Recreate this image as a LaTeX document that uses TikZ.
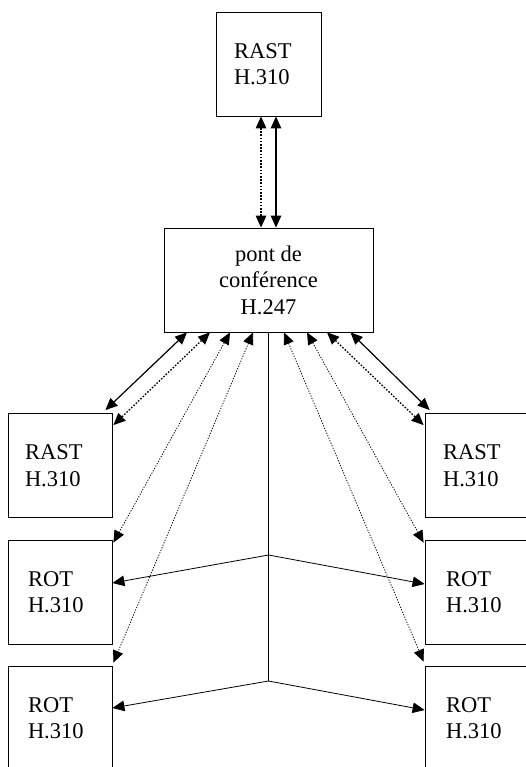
\documentclass[tikz,border=0pt]{standalone}
\usepackage{fontspec}
\setmainfont{Liberation Serif}
\usetikzlibrary{arrows.meta}
\begin{document}
\begin{tikzpicture}[x=1pt,y=-1pt,
  unit/.style={draw, line width=0.8pt, minimum height=104pt, align=left,
    font=\fontsize{22.5pt}{26.5pt}\selectfont, inner ysep=0pt},
  tip/.style={{Triangle[length=12pt,width=10.5pt]}-{Triangle[length=12pt,width=10.5pt]}},
  onetip/.style={-{Triangle[length=12pt,width=10.5pt]}},
  plain/.style={line width=1.2pt},
  dotbold/.style={line width=1.3pt, dash pattern=on 1.6pt off 1.6pt},
  dotthin/.style={line width=0.8pt, dash pattern=on 1.2pt off 1.5pt},
  feed/.style={line width=0.8pt}]
\useasboundingbox (0,0) rectangle (526,767);
\clip (0,0) rectangle (526,767);

% terminals and bridge
\node[unit, inner xsep=18pt, text width=69pt] (top) at (268.5,64) {RAST\\H.310};
\node[unit, minimum width=209pt, align=center, inner xsep=0pt] (bridge) at (268.5,280) {pont de\\conférence\\H.247};

\node[unit, inner xsep=17pt, text width=70pt] (lrast) at (60,465.5) {RAST\\H.310};
\node[unit, inner xsep=20pt, text width=64pt] (lrot1) at (60,592) {ROT\\H.310};
\node[unit, inner xsep=20pt, text width=64pt] (lrot2) at (60,718) {ROT\\H.310};

\node[unit, inner xsep=18pt, text width=68pt] (rrast) at (477,465.5) {RAST\\H.310};
\node[unit, inner xsep=21pt, text width=62pt] (rrot1) at (477,592) {ROT\\H.310};
\node[unit, inner xsep=21pt, text width=62pt] (rrot2) at (477,718) {ROT\\H.310};

% link to the upper terminal
\draw[tip, dotbold] ([xshift=-7.5pt]top.south) -- ([xshift=-7.5pt]bridge.north);
\draw[tip, plain] ([xshift=7.5pt]top.south) -- ([xshift=7.5pt]bridge.north);

% links to the left terminals
\draw[tip, plain] ([xshift=-81.5pt]bridge.south) -- ([xshift=-7pt,yshift=3pt]lrast.north east);
\draw[tip, dotbold] ([xshift=-58.5pt]bridge.south) -- ([xshift=1pt,yshift=-12pt]lrast.north east);
\draw[tip, dotthin] ([xshift=-38.5pt]bridge.south) -- ([xshift=1pt,yshift=-3pt]lrot1.north east);
\draw[tip, dotthin] ([xshift=-15.5pt]bridge.south) -- ([xshift=1pt,yshift=3pt]lrot2.north east);

% links to the right terminals
\draw[tip, plain] ([xshift=82pt]bridge.south) -- ([xshift=5pt,yshift=3pt]rrast.north west);
\draw[tip, dotbold] ([xshift=58.5pt]bridge.south) -- ([xshift=-1pt,yshift=-12pt]rrast.north west);
\draw[tip, dotthin] ([xshift=38.5pt]bridge.south) -- ([xshift=-1pt,yshift=-3pt]rrot1.north west);
\draw[tip, dotthin] ([xshift=15.5pt]bridge.south) -- ([xshift=-1pt,yshift=4pt]rrot2.north west);

% one-way feed to the ROT terminals
\coordinate (j1) at (268.5,555);
\coordinate (j2) at (268.5,681);
\draw[feed] (bridge.south) -- (j2);
\draw[feed, onetip] (j1) -- ([yshift=9pt]lrot1.east);
\draw[feed, onetip] (j1) -- ([yshift=8pt]rrot1.west);
\draw[feed, onetip] (j2) -- ([yshift=10pt]lrot2.east);
\draw[feed, onetip] (j2) -- ([yshift=8pt]rrot2.west);
\end{tikzpicture}
\end{document}
